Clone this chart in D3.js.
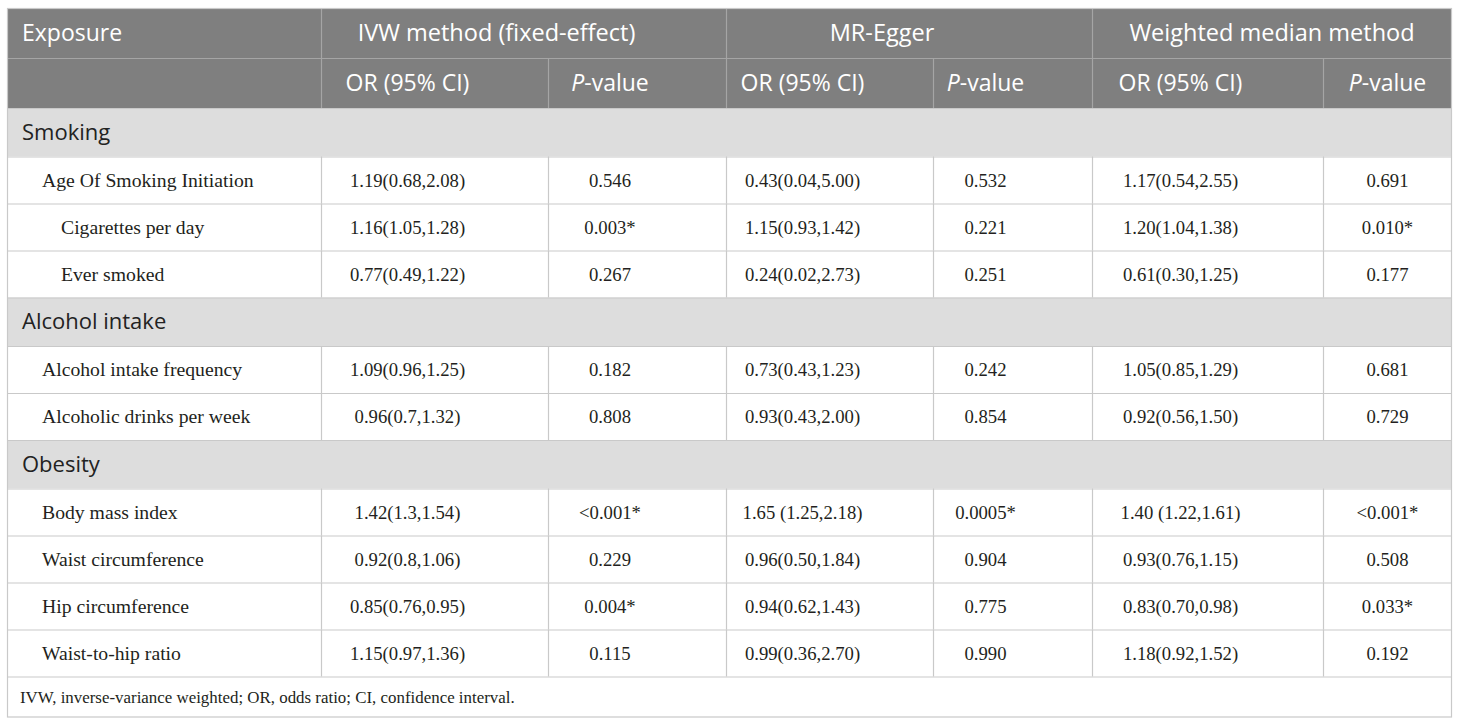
<!DOCTYPE html>
<html>
<head>
<meta charset="utf-8">
<script src="https://cdn.jsdelivr.net/npm/d3@7"></script>
<style>
  body { margin: 0; background: #fff; }
</style>
</head>
<body>
<svg id="tbl" width="1460" height="725"></svg>
<script>
// table content
var methods = ["IVW method (fixed-effect)", "MR-Egger", "Weighted median method"];
var subHeads = ["OR (95% CI)", "P-value"];
var groups = ["Smoking", "Alcohol intake", "Obesity"];
var exposures = ["Age Of Smoking Initiation", "Cigarettes per day", "Ever smoked",
  "Alcohol intake frequency", "Alcoholic drinks per week",
  "Body mass index", "Waist circumference", "Hip circumference", "Waist-to-hip ratio"];
var exposureGroup = [0, 0, 0, 1, 1, 2, 2, 2, 2];
var exposureLevel = [1, 2, 2, 1, 1, 1, 1, 1, 1];
var ivwOR = ["1.19(0.68,2.08)", "1.16(1.05,1.28)", "0.77(0.49,1.22)", "1.09(0.96,1.25)", "0.96(0.7,1.32)",
  "1.42(1.3,1.54)", "0.92(0.8,1.06)", "0.85(0.76,0.95)", "1.15(0.97,1.36)"];
var ivwP = ["0.546", "0.003*", "0.267", "0.182", "0.808", "<0.001*", "0.229", "0.004*", "0.115"];
var eggerOR = ["0.43(0.04,5.00)", "1.15(0.93,1.42)", "0.24(0.02,2.73)", "0.73(0.43,1.23)", "0.93(0.43,2.00)",
  "1.65 (1.25,2.18)", "0.96(0.50,1.84)", "0.94(0.62,1.43)", "0.99(0.36,2.70)"];
var eggerP = ["0.532", "0.221", "0.251", "0.242", "0.854", "0.0005*", "0.904", "0.775", "0.990"];
var wmOR = ["1.17(0.54,2.55)", "1.20(1.04,1.38)", "0.61(0.30,1.25)", "1.05(0.85,1.29)", "0.92(0.56,1.50)",
  "1.40 (1.22,1.61)", "0.93(0.76,1.15)", "0.83(0.70,0.98)", "1.18(0.92,1.52)"];
var wmP = ["0.691", "0.010*", "0.177", "0.681", "0.729", "<0.001*", "0.508", "0.033*", "0.192"];
var footnote = "IVW, inverse-variance weighted; OR, odds ratio; CI, confidence interval.";

var svg = d3.select("#tbl");

var headFill = "#7f7f7f", groupFill = "#dddddd", lineCol = "#c9c9c9", headLine = "#a5a5a5";
var sans = "'Open Sans', 'Noto Sans', sans-serif", serif = "'Liberation Serif', 'DejaVu Serif', serif";

// column layout
var colW = [314, 227, 178, 207, 159, 231, 129];
var colX = [7].concat(Array.from(d3.cumsum(colW), function(d) { return d + 7; }));
var right = colX[colX.length - 1];
function colMid(i, j) { // center of cols i..j, shifted left unless touching right edge
  var m = (colX[i] + colX[j + 1]) / 2;
  return j + 1 === colX.length - 1 ? m : m - 27;
}

// build rows
var rows = [{type: "head1"}, {type: "head2"}];
groups.forEach(function(g, gi) {
  rows.push({type: "group", label: g});
  exposures.forEach(function(e, i) {
    if (exposureGroup[i] === gi) rows.push({type: "data", i: i});
  });
});
rows.push({type: "foot"});
var rowH = {head1: 50, head2: 50, group: 48.5, data: 47, foot: 41};
var rowY = [8].concat(Array.from(d3.cumsum(rows, function(r) { return rowH[r.type]; }), function(d) { return d + 8; }));
rows.forEach(function(r, k) { r.y0 = rowY[k]; r.y1 = rowY[k + 1]; r.cy = (r.y0 + r.y1) / 2; });

var y = d3.scaleOrdinal().domain(d3.range(rows.length)).range(rows.map(function(r) { return r.y0; }));

// backgrounds
svg.selectAll("rect.bg").data(rows).enter().append("rect")
    .attr("x", colX[0]).attr("y", function(r, k) { return y(k); })
    .attr("width", right - colX[0])
    .attr("height", function(r) { return r.y1 - r.y0; })
    .attr("fill", function(r) { return r.type.indexOf("head") === 0 ? headFill : r.type === "group" ? groupFill : "#fff"; });

// horizontal lines
rows.forEach(function(r, k) {
  if (k === 0) return;
  var inHead = k <= 1;
  svg.append("line")
      .attr("x1", colX[0]).attr("x2", right)
      .attr("y1", r.y0 + 0.5).attr("y2", r.y0 + 0.5)
      .attr("stroke", inHead ? headLine : lineCol).attr("stroke-width", 1.2);
});

// vertical lines
function vline(x, y0, y1, col) {
  svg.append("line").attr("x1", x + 0.5).attr("x2", x + 0.5).attr("y1", y0).attr("y2", y1)
      .attr("stroke", col).attr("stroke-width", 1.2);
}
[1, 3, 5].forEach(function(c) { vline(colX[c], rows[0].y0, rows[0].y1, headLine); });
d3.range(1, 7).forEach(function(c) { vline(colX[c], rows[1].y0, rows[1].y1, headLine); });
rows.forEach(function(r) {
  if (r.type === "data") d3.range(1, 7).forEach(function(c) { vline(colX[c], r.y0, r.y1, lineCol); });
});

// outer border
svg.append("rect").attr("x", colX[0] + 0.5).attr("y", rowY[0] + 0.5)
    .attr("width", right - colX[0] - 1).attr("height", rowY[rowY.length - 1] - rowY[0] - 1)
    .attr("fill", "none").attr("stroke", lineCol).attr("stroke-width", 1.2);

// header text
var h1 = rows[0], h2 = rows[1];
svg.append("text").attr("x", 22).attr("y", h1.cy + 8)
    .attr("font-family", sans).attr("font-size", 23).attr("fill", "#fff").text("Exposure");
methods.forEach(function(m, i) {
  svg.append("text").attr("x", colMid(1 + 2 * i, 2 + 2 * i)).attr("y", h1.cy + 8)
      .attr("text-anchor", "middle").attr("font-family", sans).attr("font-size", 23.5)
      .attr("fill", "#fff").text(m);
  subHeads.forEach(function(s, j) {
    var c = 1 + 2 * i + j;
    var t = svg.append("text").attr("x", colMid(c, c)).attr("y", h2.cy + 8)
        .attr("text-anchor", "middle").attr("font-family", sans).attr("font-size", 23)
        .attr("fill", "#fff");
    if (j === 1) {
      t.append("tspan").attr("font-style", "italic").text("P");
      t.append("tspan").text("-value");
    } else t.text(s);
  });
});

// group rows
rows.filter(function(r) { return r.type === "group"; }).forEach(function(r) {
  svg.append("text").attr("x", 22).attr("y", r.cy + 7.5)
      .attr("font-family", sans).attr("font-size", 22).attr("fill", "#222").text(r.label);
});

// data rows
var cols = [ivwOR, ivwP, eggerOR, eggerP, wmOR, wmP];
rows.filter(function(r) { return r.type === "data"; }).forEach(function(r) {
  svg.append("text").attr("x", exposureLevel[r.i] === 1 ? 42 : 61).attr("y", r.cy + 6.5)
      .attr("font-family", serif).attr("font-size", 19.7).attr("fill", "#231f20").text(exposures[r.i]);
  cols.forEach(function(arr, c) {
    svg.append("text").attr("x", colMid(c + 1, c + 1)).attr("y", r.cy + 6.5)
        .attr("text-anchor", "middle").attr("font-family", serif).attr("font-size", 18.7)
        .attr("fill", "#231f20").text(arr[r.i]);
  });
});

// footnote
var f = rows[rows.length - 1];
svg.append("text").attr("x", 20).attr("y", f.cy + 6)
    .attr("font-family", serif).attr("font-size", 16.9).attr("fill", "#231f20").text(footnote);
</script>
</body>
</html>
